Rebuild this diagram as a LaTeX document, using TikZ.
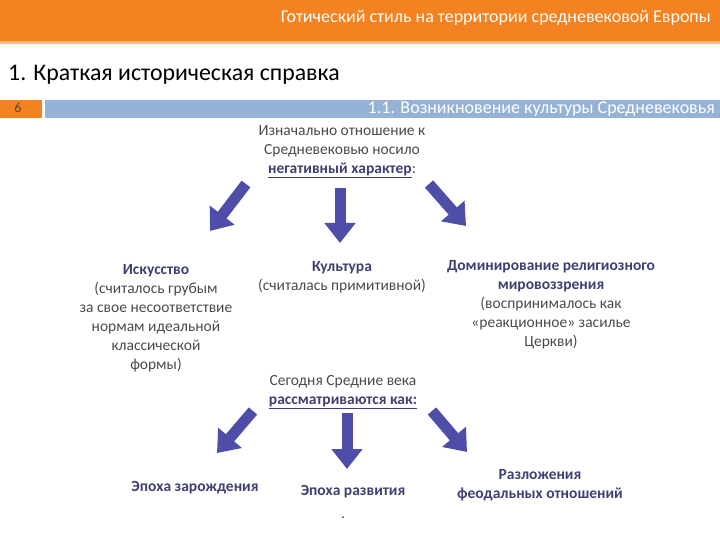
\documentclass[tikz,border=0pt]{standalone}
\usepackage{fontspec}
\setmainfont{Carlito}
\usetikzlibrary{arrows.meta,positioning}
\definecolor{Hbar}{HTML}{F58220}
\definecolor{Hline}{HTML}{F9B987}
\definecolor{Sbar}{HTML}{95B3D7}
\definecolor{Tnavy}{HTML}{3F3F72}
\definecolor{Tgrey}{HTML}{4A4A4A}
\definecolor{Barrow}{HTML}{4E4EA8}

\begin{document}
\begin{tikzpicture}[
  x=1pt, y=-1pt,
  txt/.style  ={font=\fontsize{15.5}{19}\selectfont, text=Tgrey, align=center, inner sep=0pt},
  head/.style ={font=\fontsize{15.5}{19}\selectfont\bfseries, text=Tnavy, align=center, inner sep=0pt},
  blk/.style  ={draw=Barrow, line width=11pt, -{Triangle[length=20pt, width=30pt]}},
]
\useasboundingbox (0,0) rectangle (720,540);

% ── header strips ─────────────────────────────────────────────────────
\fill[Hbar] (0,0) rectangle (720,41);
\fill[Hline] (0,41) rectangle (720,44);
\node[anchor=east, text=white, font=\fontsize{18}{20}\selectfont, inner sep=0pt] (maintitle) at (711,18)
  {Готический стиль на территории средневековой Европы};
\node[anchor=west, font=\fontsize{23.8}{26}\selectfont, inner sep=0pt] (section) at (8,75)
  {1. Краткая историческая справка};

\fill[Hbar] (0,100) rectangle (42,118);
\fill[Sbar] (45,100) rectangle (720,118);
\node[font=\fontsize{14}{15}\selectfont, text=black!70, inner sep=0pt] (pagenum) at (18,108) {6};
\node[anchor=east, text=white, font=\fontsize{18}{20}\selectfont, inner sep=0pt] (subtitle) at (715,109)
  {1.1. Возникновение культуры Средневековья};

% ── first level ───────────────────────────────────────────────────────
\node[txt] (intro) at (342,152)
  {Изначально отношение к\\Средневековью носило\\{\bfseries\color{Tnavy}\underline{негативный характер}}:};

\node[txt] (art) at (156,318)
  {{\bfseries\color{Tnavy}Искусство}\\(считалось грубым\\за свое несоответствие\\нормам идеальной\\классической\\формы)};
\node[txt] (culture) at (342,277)
  {{\bfseries\color{Tnavy}Культура}\\(считалась примитивной)};
\node[txt] (relig) at (551,305)
  {{\bfseries\color{Tnavy}Доминирование религиозного}\\{\bfseries\color{Tnavy}мировоззрения}\\(воспринималось как\\«реакционное» засилье\\Церкви)};

\coordinate (ia) at (246,184);  \coordinate (ea) at (210,231);
\coordinate (ic) at (340,188);  \coordinate (ec) at (340,243);
\coordinate (ir) at (429,184);  \coordinate (er) at (466,226);
\draw[blk] (ia) -- (ea);
\draw[blk] (ic) -- (ec);
\draw[blk] (ir) -- (er);

% ── second level ──────────────────────────────────────────────────────
\node[txt] (today) at (343,392)
  {Сегодня Средние века\\{\bfseries\color{Tnavy}\underline{рассматриваются как:}}};

\node[head] (birth) at (195,488) {Эпоха зарождения};
\node[head] (growth) at (353,492) {Эпоха развития};
\node[txt] (dot) at (343,518) {.};
\node[head] (decay) at (540,485) {Разложения\\феодальных отношений};

\coordinate (tb) at (253,411);  \coordinate (eb) at (217,453);
\coordinate (tg) at (347,413);  \coordinate (eg) at (347,469);
\coordinate (td) at (432,411);  \coordinate (ed) at (467,452);
\draw[blk] (tb) -- (eb);
\draw[blk] (tg) -- (eg);
\draw[blk] (td) -- (ed);

\end{tikzpicture}
\end{document}
